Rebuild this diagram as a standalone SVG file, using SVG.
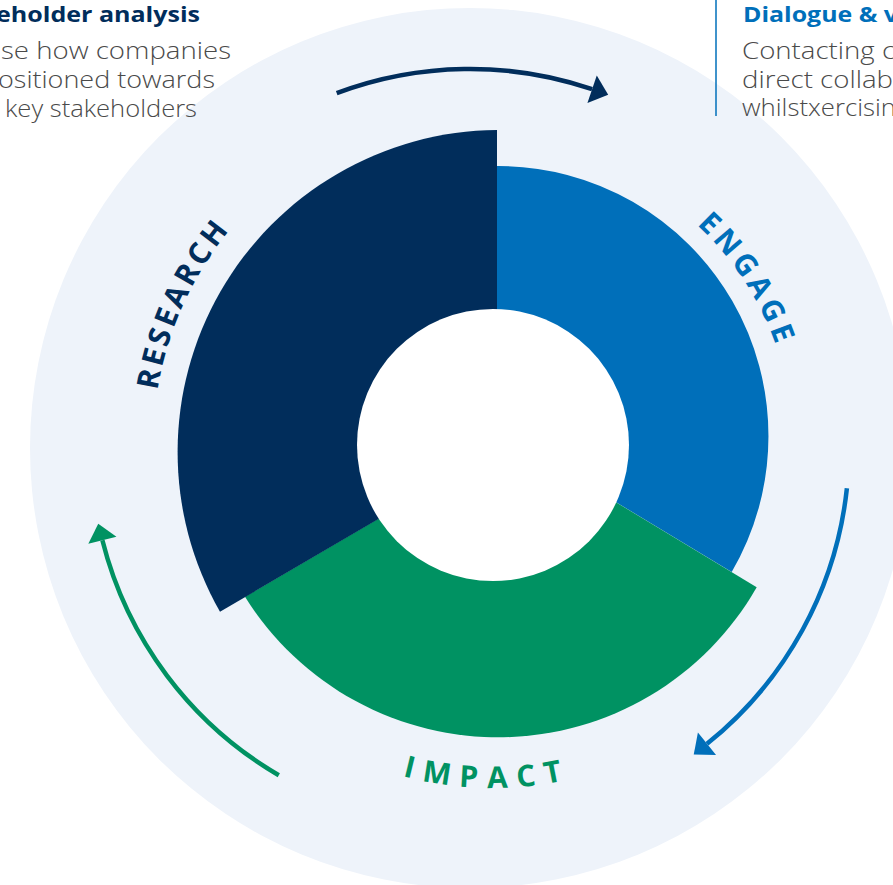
<svg xmlns="http://www.w3.org/2000/svg" width="893" height="885" viewBox="0 0 893 885">
  <style>
    .head { font-family: "Open Sans", "Liberation Sans", sans-serif; font-weight: 700; font-size: 22px; }
    .body { font-family: "Open Sans", "Liberation Sans", sans-serif; font-weight: 300; font-size: 24px; fill: #4a4a4a; }
    .lbl { font-family: "Open Sans", "Liberation Sans", sans-serif; font-weight: 700; font-style: normal; font-size: 30px; }
    .arrow { fill: none; stroke-width: 4.5; stroke-linecap: butt; }
  </style>
  <defs>
    <marker id="ah-navy" markerUnits="userSpaceOnUse" markerWidth="20" markerHeight="32" viewBox="0 -16 18 32" refX="0" refY="0" orient="auto">
      <path d="M0,-14.5 L17,0 L0,14.5 Z" fill="#012d5b"/>
    </marker>
    <marker id="ah-blue" markerUnits="userSpaceOnUse" markerWidth="20" markerHeight="32" viewBox="0 -16 18 32" refX="0" refY="0" orient="auto">
      <path d="M0,-14.5 L17,0 L0,14.5 Z" fill="#006fba"/>
    </marker>
    <marker id="ah-green" markerUnits="userSpaceOnUse" markerWidth="20" markerHeight="32" viewBox="0 -16 18 32" refX="0" refY="0" orient="auto">
      <path d="M0,-14.5 L17,0 L0,14.5 Z" fill="#009262"/>
    </marker>
    <path id="p-research" d="M173.5,561.3 A340,340 0 0 1 376.7,125.5"/>
    <path id="p-engage" d="M545.1,149.6 A300,300 0 0 1 774.9,547.6"/>
    <path id="p-impact" d="M272.5,707.7 A343,343 0 0 0 713.5,707.7"/>
  </defs>

  <circle id="background" cx="470" cy="448" r="440" fill="#eef3fa"/>

  <g id="text-left">
    <text class="head" x="-4" y="22" fill="#012d5b" textLength="204" lengthAdjust="spacingAndGlyphs">eholder analysis</text>
    <text class="body" x="1" y="59" textLength="230" lengthAdjust="spacingAndGlyphs">se how companies</text>
    <text class="body" x="-2" y="88" textLength="217" lengthAdjust="spacingAndGlyphs">ositioned towards</text>
    <text class="body" x="5" y="117" textLength="192" lengthAdjust="spacingAndGlyphs">key stakeholders</text>
  </g>

  <g id="text-right">
    <line x1="716" y1="0" x2="716" y2="116" stroke="#006fba" stroke-width="1.5"/>
    <text class="head" x="743" y="22" fill="#006fba" textLength="155" lengthAdjust="spacingAndGlyphs">Dialogue &amp; v</text>
    <text class="body" x="742" y="59" textLength="153" lengthAdjust="spacingAndGlyphs">Contacting c</text>
    <text class="body" x="742" y="88" textLength="151" lengthAdjust="spacingAndGlyphs">direct collab</text>
    <text class="body" x="742" y="116" textLength="154" lengthAdjust="spacingAndGlyphs">whilstxercisin</text>
  </g>

  <g id="node-engage">
    <path d="M497,166 A270,270 0 0 1 731.7,572 L513,440 L497,449.7 Z" fill="#006fba"/>
    <text class="lbl" fill="#006fba" letter-spacing="4.5"><textPath href="#p-engage" startOffset="47%" text-anchor="middle">ENGAGE</textPath></text>
  </g>

  <g id="node-impact">
    <path d="M513,440 L756.7,587.3 A298,298 0 0 1 245,596.7 Z" fill="#009262"/>
    <text class="lbl" fill="#009262" letter-spacing="9.5"><textPath href="#p-impact" startOffset="48.8%" text-anchor="middle">IMPACT</textPath></text>
  </g>

  <g id="node-research">
    <path d="M497,130 A322,322 0 0 0 220,611.7 L497,449.7 Z" fill="#012d5b"/>
    <text class="lbl" fill="#012d5b" letter-spacing="3.5"><textPath href="#p-research" startOffset="49.4%" text-anchor="middle">RESEARCH</textPath></text>
  </g>

  <circle id="hole" cx="493" cy="445" r="136" fill="#ffffff"/>

  <g id="connectors">
    <path class="arrow" stroke="#012d5b" marker-end="url(#ah-navy)" d="M336.7,93.2 A379,379 0 0 1 592.1,89.2"/>
    <path class="arrow" stroke="#006fba" marker-end="url(#ah-blue)" d="M846.9,488.3 A379,379 0 0 1 707.0,743.8"/>
    <path class="arrow" stroke="#009262" marker-end="url(#ah-green)" d="M278.8,775.2 A379,379 0 0 1 102.4,540.3"/>
  </g>
</svg>
